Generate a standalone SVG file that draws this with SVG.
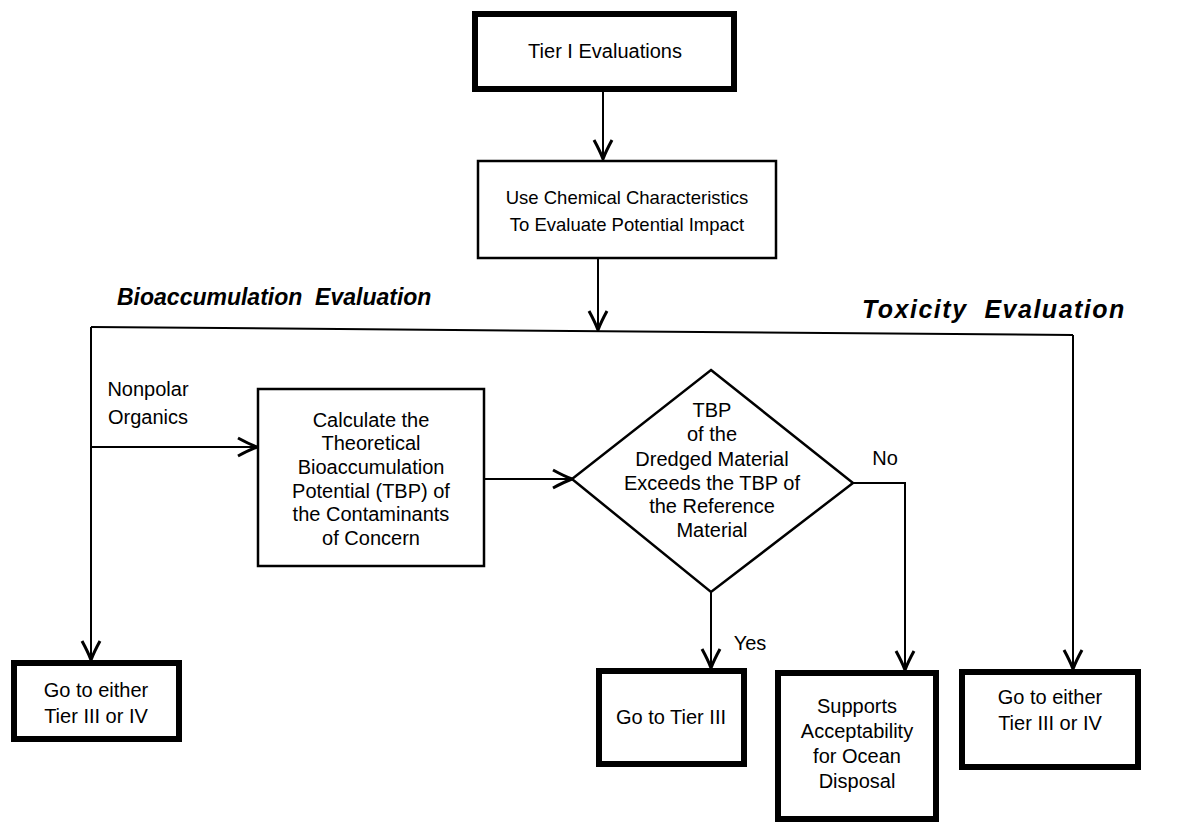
<svg xmlns="http://www.w3.org/2000/svg" width="1183" height="823" viewBox="0 0 1183 823">
  <style>
    .bg { fill: #ffffff; }
    .thick { fill: #ffffff; stroke: #000000; stroke-width: 6; }
    .thin { fill: #ffffff; stroke: #000000; stroke-width: 2.5; }
    .wire { fill: none; stroke: #000000; stroke-width: 2; }
    .lbl { font-family: "Liberation Sans", Arial, sans-serif; font-size: 20px; fill: #000000; text-anchor: middle; }
    .small { font-size: 18.5px; }
    .head { font-family: "Liberation Sans", Arial, sans-serif; font-weight: bold; font-style: italic; fill: #000000; }
  </style>
  <defs>
    <!-- open barbed arrowhead shared by every connector -->
    <marker id="arrow" viewBox="0 0 24 24" refX="22" refY="12" markerWidth="24" markerHeight="24" markerUnits="userSpaceOnUse" orient="auto">
      <path d="M3,3 Q14,9 22,12 Q14,15 3,21" fill="none" stroke="#000000" stroke-width="3" stroke-linejoin="miter"/>
    </marker>
  </defs>
  <rect class="bg" x="0" y="0" width="1183" height="823"/>

  <!-- section headings -->
  <text class="head" x="117" y="305" font-size="23" xml:space="preserve">Bioaccumulation  Evaluation</text>
  <text class="head" x="862" y="318" font-size="25" letter-spacing="1.5" xml:space="preserve">Toxicity  Evaluation</text>

  <!-- connectors -->
  <g id="connectors">
    <line class="wire" x1="603" y1="92" x2="603" y2="159" marker-end="url(#arrow)"/>
    <line class="wire" x1="598" y1="259" x2="598" y2="330" marker-end="url(#arrow)"/>
    <line class="wire" x1="91" y1="327" x2="1073" y2="335"/>
    <line class="wire" x1="91" y1="327" x2="91" y2="660" marker-end="url(#arrow)"/>
    <line class="wire" x1="1073" y1="335" x2="1073" y2="669" marker-end="url(#arrow)"/>
    <line class="wire" x1="91" y1="447" x2="257" y2="447" marker-end="url(#arrow)"/>
    <line class="wire" x1="484" y1="479" x2="572" y2="479" marker-end="url(#arrow)"/>
    <polyline class="wire" points="853,483 905,483 905,670" marker-end="url(#arrow)"/>
    <line class="wire" x1="711" y1="592" x2="711" y2="668" marker-end="url(#arrow)"/>
    <text class="lbl" x="148" y="396">Nonpolar</text>
    <text class="lbl" x="148" y="424">Organics</text>
    <text class="lbl" x="885" y="465">No</text>
    <text class="lbl" x="750" y="650">Yes</text>
  </g>

  <g id="tier1">
    <rect class="thick" x="475" y="14" width="259" height="75"/>
    <text class="lbl" x="605" y="58">Tier I Evaluations</text>
  </g>

  <g id="chemical">
    <rect class="thin" x="478" y="161" width="298" height="97"/>
    <text class="lbl small" x="627" y="204">Use Chemical Characteristics</text>
    <text class="lbl small" x="627" y="231">To Evaluate Potential Impact</text>
  </g>

  <g id="calculate">
    <rect class="thin" x="258" y="389" width="226" height="177"/>
    <text class="lbl" x="371" y="427">Calculate the</text>
    <text class="lbl" x="371" y="450">Theoretical</text>
    <text class="lbl" x="371" y="474">Bioaccumulation</text>
    <text class="lbl" x="371" y="498">Potential (TBP) of</text>
    <text class="lbl" x="371" y="521">the Contaminants</text>
    <text class="lbl" x="371" y="545">of Concern</text>
  </g>

  <g id="decision">
    <polygon class="thin" points="711,370 853,483 711,592 572,479"/>
    <text class="lbl" x="712" y="417">TBP</text>
    <text class="lbl" x="712" y="441">of the</text>
    <text class="lbl" x="712" y="466">Dredged Material</text>
    <text class="lbl" x="712" y="490">Exceeds the TBP of</text>
    <text class="lbl" x="712" y="513">the Reference</text>
    <text class="lbl" x="712" y="537">Material</text>
  </g>

  <g id="left-either">
    <rect class="thick" x="14" y="663" width="165" height="76"/>
    <text class="lbl" x="96" y="697">Go to either</text>
    <text class="lbl" x="96" y="723">Tier III or IV</text>
  </g>

  <g id="tier3">
    <rect class="thick" x="599" y="671" width="145" height="93"/>
    <text class="lbl" x="671" y="724">Go to Tier III</text>
  </g>

  <g id="ocean">
    <rect class="thick" x="778" y="673" width="158" height="146"/>
    <text class="lbl" x="857" y="713">Supports</text>
    <text class="lbl" x="857" y="738">Acceptability</text>
    <text class="lbl" x="857" y="763">for Ocean</text>
    <text class="lbl" x="857" y="788">Disposal</text>
  </g>

  <g id="right-either">
    <rect class="thick" x="962" y="672" width="176" height="95"/>
    <text class="lbl" x="1050" y="704">Go to either</text>
    <text class="lbl" x="1050" y="730">Tier III or IV</text>
  </g>
</svg>
